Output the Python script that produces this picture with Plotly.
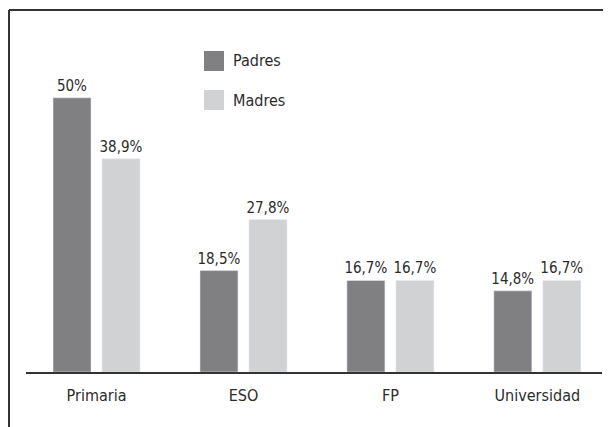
import plotly.graph_objects as go

categories = ["Primaria", "ESO", "FP", "Universidad"]
padres = [50, 18.5, 16.7, 14.8]
madres = [38.9, 27.8, 16.7, 16.7]

FONT = "DejaVu Sans Condensed, Liberation Sans Narrow, sans-serif"
TEXT = "#2b2b2b"
DARK = "#808083"
LIGHT = "#d1d2d4"

# the page puts the figure 8px in from the top-left corner
OFF = 8
W, H = 611 - OFF, 427 - OFF
L, R, T, B = 26 - OFF, 602 - OFF, 20 - OFF, 372 - OFF
PW, PH = R - L, B - T


def pct(values):
    return [f"{v:g}".replace(".", ",") + "%" for v in values]


def px(x):
    return (x - OFF - L) / PW


def py(y):
    return (B - (y - OFF)) / PH


fig = go.Figure()
for name, vals, color in [("Padres", padres, DARK), ("Madres", madres, LIGHT)]:
    fig.add_bar(
        x=categories, y=vals, name=name, marker_color=color,
        text=pct(vals), textposition="outside", cliponaxis=False,
        constraintext="none", textfont=dict(size=15, color=TEXT),
    )

# hand-drawn legend like the original
for i, (name, color) in enumerate([("Padres", DARK), ("Madres", LIGHT)]):
    y0 = 51 + 39 * i
    fig.add_shape(
        type="rect", xref="paper", yref="paper",
        x0=px(204), x1=px(224), y0=py(y0), y1=py(y0 + 20),
        fillcolor=color, line_width=0,
    )
    fig.add_annotation(
        xref="paper", yref="paper", x=px(231), y=py(y0 + 10),
        text=name, showarrow=False, xanchor="left", yanchor="middle",
        font=dict(size=16, color=TEXT),
    )

# frame lines (top and left)
fig.add_shape(type="line", xref="paper", yref="paper",
              x0=px(9), x1=px(620), y0=py(10), y1=py(10),
              line=dict(color="#333333", width=2))
fig.add_shape(type="line", xref="paper", yref="paper",
              x0=px(9), x1=px(9), y0=py(10), y1=py(440),
              line=dict(color="#333333", width=2))

fig.update_layout(
    width=W, height=H,
    margin=dict(l=L, r=W - R, t=T, b=H - B),
    paper_bgcolor="white", plot_bgcolor="white",
    font=dict(family=FONT, size=16, color=TEXT),
    showlegend=False,
    barmode="group", bargap=0.333, bargroupgap=0.2245,
)
fig.update_xaxes(
    range=[-0.48, 3.44], showline=True, linecolor="#333333", linewidth=1.5,
    ticks="", tickfont=dict(size=16, color=TEXT), showgrid=False,
    ticklabelstandoff=8,
)
fig.update_yaxes(range=[0, 64.2], visible=False)

fig.write_html("out.html")
